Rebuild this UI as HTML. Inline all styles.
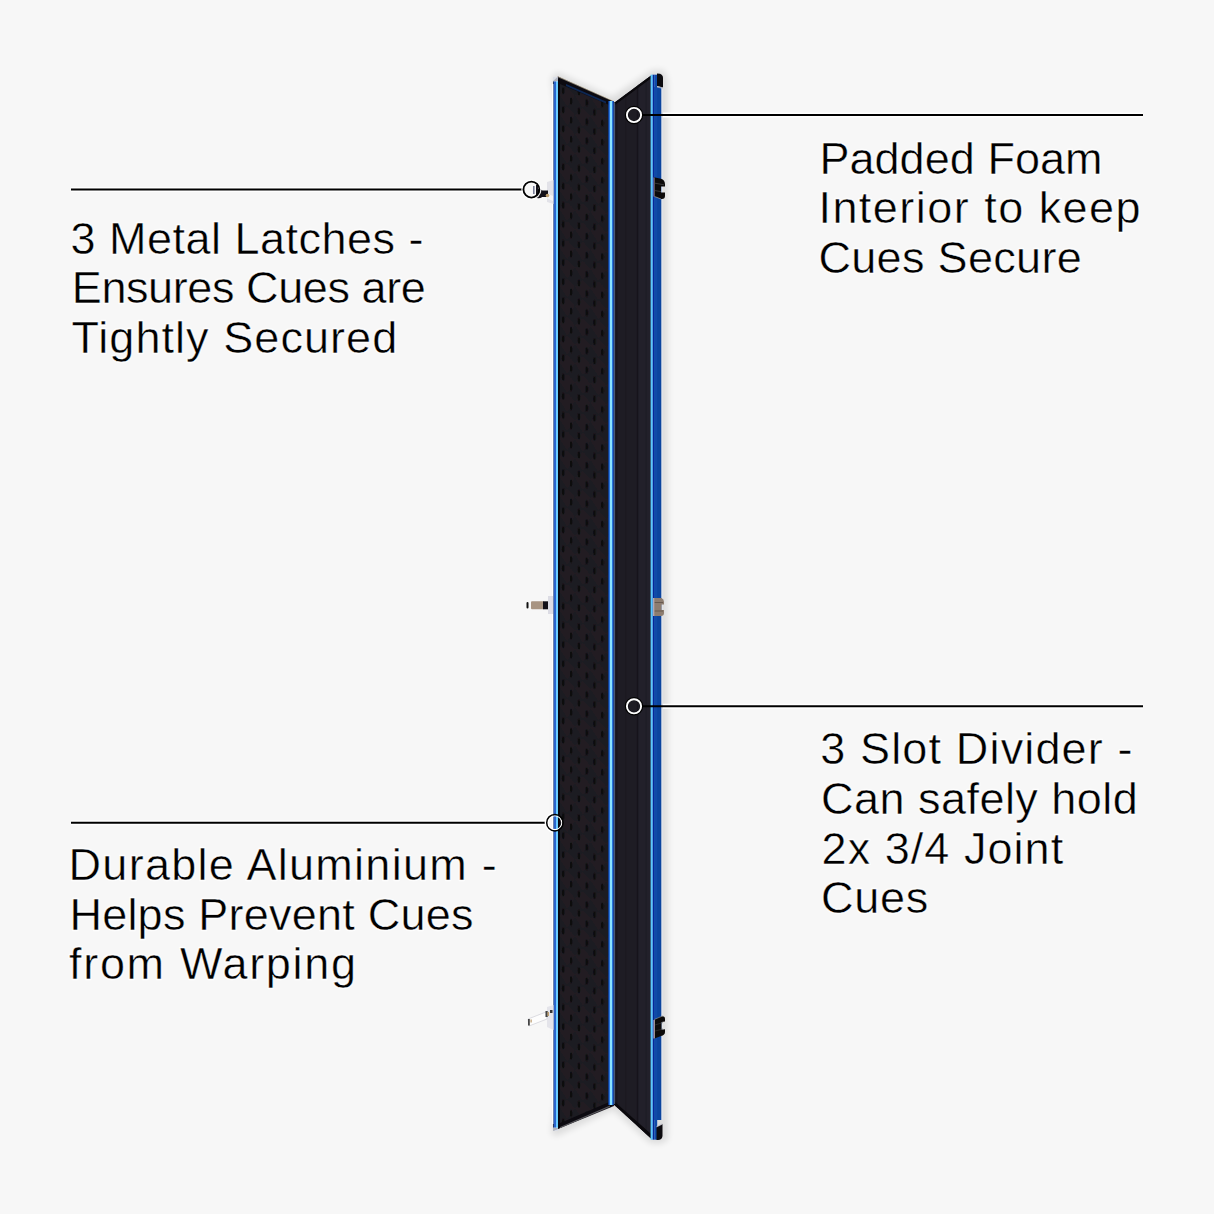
<!DOCTYPE html>
<html><head><meta charset="utf-8">
<style>
html,body{margin:0;padding:0;background:#f7f7f7;}
body{width:1214px;height:1214px;overflow:hidden;position:relative;}
svg{position:absolute;left:0;top:0;}
text{font-family:"Liberation Sans",sans-serif;font-size:45px;fill:#000;stroke:#fff;stroke-width:0.45px;}
.halo text{fill:#fff;stroke:#fff;stroke-width:2.4px;stroke-linejoin:round;opacity:0.85;}
</style></head>
<body>
<svg width="1214" height="1214" viewBox="0 0 1214 1214">
<defs>
  <pattern id="egg" x="559.3" y="442.6" width="15.6" height="19.1" patternUnits="userSpaceOnUse" patternTransform="skewY(5)">
    <rect width="15.6" height="19.1" fill="#1d1a20"/>
    <path d="M0,4 Q4,9.55 7.8,15.28 Q11.8,9.55 15.6,4 Q11.8,0 7.8,-4 Q4,0 0,4Z" fill="#28242b" opacity="0.35"/>
    <path d="M0,23.10 Q4,28.65 7.8,34.38 Q11.8,28.65 15.6,23.10 Q11.8,19.1 7.8,15.28 Q4,19.1 0,23.10Z" fill="#28242b" opacity="0.35"/>
    <ellipse cx="4" cy="0" rx="1.15" ry="3.4" fill="#060508" opacity="0.9"/>
    <ellipse cx="4" cy="19.1" rx="1.15" ry="3.4" fill="#060508" opacity="0.9"/>
    <ellipse cx="11.8" cy="9.55" rx="1.15" ry="3.4" fill="#060508" opacity="0.9"/>
  </pattern>
  <filter id="fsoft" x="-5%" y="-1%" width="110%" height="102%"><feGaussianBlur stdDeviation="0.75"/></filter>
  <filter id="blur1" x="-50%" y="-10%" width="200%" height="120%"><feGaussianBlur stdDeviation="3"/></filter>
  <filter id="soft" x="-50%" y="-50%" width="200%" height="200%"><feGaussianBlur stdDeviation="0.6"/></filter>
  <clipPath id="rclip"><polygon points="614,103 652.2,74.7 652.2,1139.6 613.6,1104.2"/></clipPath>
  <clipPath id="lclip"><rect x="0" y="0" width="553" height="1214"/></clipPath>
</defs>

<!-- shadow -->
<polygon points="551,78 557,72 612,97 652,70 664,70 668,80 668,1140 660,1144 650,1143 613,1110 557,1136 551,1134 555,1100 555,110" fill="#000" opacity="0.10" filter="url(#blur1)"/>

<!-- left panel -->
<polygon points="553,81 558,76.6 614,101.4 614,1106 553,1131" fill="url(#egg)" filter="url(#fsoft)"/>
<!-- left panel top bevel -->
<polygon points="558,76.6 614,101.4 614,107 560,84" fill="#0c0a10"/>
<polygon points="566,84 606,101.5 606,103.5 566,86" fill="#0f3a80" opacity="0.6"/>
<polygon points="558,76 614,100.8 614,102 558,77.3" fill="#e8dcc0" opacity="0.55"/>
<!-- left panel bottom bevel -->
<polygon points="553,1131 614,1105 614,1100 558,1124" fill="#0c0a10"/>
<polygon points="560,1127 610,1105.5 610,1106.7 560,1128.2" fill="#8a8a90" opacity="0.6"/>
<!-- left blue edge -->
<rect x="552" y="84" width="1.6" height="1040" fill="#ffffff" opacity="0.9"/>
<rect x="553.6" y="81" width="2.5" height="1047" fill="#2a64cc"/>
<rect x="556" y="81" width="2.1" height="1047" fill="#6ccdff"/>
<rect x="558" y="79" width="1.8" height="1049" fill="#03030c"/>
<rect x="553" y="77" width="5" height="4.5" fill="#d8dde8" opacity="0.8"/>
<rect x="553" y="1127.5" width="5" height="3.5" fill="#d8dde8" opacity="0.8"/>

<!-- right panel -->
<polygon points="614,103 652.2,74.7 652.2,1139.6 613.6,1104.2" fill="#1e1c24"/>
<g clip-path="url(#rclip)">
<rect x="614" y="70" width="3.5" height="1080" fill="#17151c" opacity="0.8"/>
<rect x="625" y="70" width="1.2" height="1080" fill="#19171e" opacity="0.6"/>
<rect x="638" y="70" width="12.5" height="1080" fill="#22202a"/>
<rect x="636.8" y="70" width="1.5" height="1080" fill="#141219" opacity="0.8"/>
<rect x="645.5" y="70" width="1.2" height="1080" fill="#1c1a22" opacity="0.6"/>
</g>
<!-- right panel top/bottom bevel -->
<polygon points="614,103 652.2,74.7 652.2,77.5 615,105" fill="#0a080c"/>
<polygon points="613.6,1104.2 652.2,1139.6 652.2,1135 615,1102" fill="#0a080c"/>
<!-- right blue -->
<rect x="650.6" y="74.7" width="2.2" height="1065" fill="#58c6ff"/>
<rect x="652.8" y="74.7" width="1.4" height="1065" fill="#06249a"/>
<rect x="654.2" y="87" width="7.3" height="1033" fill="#0b449e"/>
<rect x="654.2" y="74.7" width="3" height="1065" fill="#0f4aa8"/>
<rect x="661.4" y="88" width="1.2" height="1032" fill="#e6ebf3" opacity="0.7"/>
<!-- right corner caps -->
<path d="M657,73.6 L660,73.8 Q663,75 663,78 L663,87.5 L657,86 Z" fill="#0d0b0f"/>
<path d="M657,86 L663,87.5 L663,89 L657,87.5 Z" fill="#c8c8d0" opacity="0.7"/>
<path d="M656.5,1127 L662.5,1124 L662.5,1136 Q662,1140 658,1140 L656.5,1140 Z" fill="#0d0b0f"/>
<path d="M656.5,1126 L662.5,1123 L662.5,1124.5 L656.5,1127.5 Z" fill="#c8c8d0" opacity="0.7"/>

<!-- middle blue line -->
<rect x="608.3" y="101" width="5.5" height="1004" fill="#0a3a9a"/>
<rect x="608.8" y="101" width="4.5" height="1004" fill="#1e68d8"/>
<rect x="609.9" y="101" width="2.2" height="1004" fill="#8ae4ff"/>
<rect x="613.8" y="103" width="1.3" height="1001" fill="#4a5a78"/>

<!-- right clips -->
<g>
  <path d="M654,177.3 L661,178.8 Q665,180 665,184.5 L665,186.5 L661,186.5 L661,192.5 L665,192.5 L665,196 Q665,199.5 661,199 L654,196.5 Z" fill="#0b0909"/>
  <path d="M655,183.2 L664,184.8" stroke="#555" stroke-width="0.6"/>
  <path d="M655,190.6 L661,191.6" stroke="#555" stroke-width="0.6"/>
  <path d="M654.5,196.5 L661,199" stroke="#aaa" stroke-width="0.7"/>
  <rect x="653.6" y="177.5" width="0.9" height="19" fill="#d8c0c0" opacity="0.8"/>
  <path d="M653.5,598 L661.5,598 Q664,599 664,602 L664,604.5 L661.5,604.5 L661.5,610 L664,610 L664,613 Q664,616 661,616 L653.5,616 Z" fill="#8d7d70"/>
  <path d="M654.5,602.5 L663,602.5 M654.5,611 L663,611" stroke="#5d5048" stroke-width="0.8"/>
  <rect x="653.2" y="598" width="1" height="18" fill="#e8d8d8" opacity="0.8"/>
  <path d="M654,1019.8 L661,1016.6 Q665,1015.5 665,1019 L665,1021.4 L661.5,1022 L661.5,1029.7 L665,1029.2 L665,1032 Q665,1035 661,1036 L654,1038.7 Z" fill="#0b0909"/>
  <path d="M655,1025 L663,1022.5 M655,1031 L663,1029" stroke="#444" stroke-width="0.5"/>
  <path d="M654,1019.6 L663,1015.8" stroke="#999" stroke-width="0.6"/>
  <rect x="653.5" y="1020" width="1.3" height="18.5" fill="#e0d0d0" opacity="0.85"/>
</g>
<!-- left latches -->
<g>
  <rect x="548" y="596" width="5" height="18" fill="#dcdce4"/>
  <rect x="531" y="601.3" width="13" height="8" rx="1" fill="#a89482"/>
  <rect x="543" y="601.3" width="5" height="8" fill="#121018"/>
  <rect x="526.5" y="602" width="2" height="6.5" rx="1" fill="#111"/>
  <!-- top latch -->
  <polygon points="547,182 553.5,180 553.5,204 547,202" fill="#e2e2e8"/>
  <polygon points="544,192 553,196 553,201 544,197" fill="#f4f4f6"/>
  <rect x="533" y="186" width="1.6" height="8" fill="#5a6080" opacity="0.8"/>
  <path d="M536,185 L538,185 L538,189 Q542,189 543,192 L543,196 Q541,199 537,198 L536,198 Z" fill="#14121a"/>
  <rect x="539" y="190.5" width="9" height="6.5" fill="#121018"/>
  <circle cx="547.5" cy="195.5" r="1.8" fill="#c0a070"/>
  <!-- bottom latch -->
  <polygon points="547,1007 553.5,1005 553.5,1030 547,1027" fill="#e4e4ea"/>
  <polygon points="528,1019 546,1012 547,1019 529,1026" fill="#fdfdfd" stroke="#c8c8d0" stroke-width="0.6"/>
  <g filter="url(#soft)">
    <rect x="528" y="1019" width="1.8" height="6.5" fill="#444"/>
    <rect x="530.5" y="1019.5" width="1.2" height="3" fill="#b8986a"/>
    <rect x="545.5" y="1011" width="2.2" height="6" fill="#444"/>
    <rect x="547.5" y="1012" width="1.5" height="4" fill="#c0a070"/>
    <rect x="550" y="1010" width="2.5" height="3" fill="#333"/>
  </g>
</g>

<!-- leader lines -->
<g>
  <line x1="71" y1="189.6" x2="523" y2="189.6" stroke="#fff" stroke-width="5"/>
  <line x1="71" y1="189.6" x2="523" y2="189.6" stroke="#000" stroke-width="2"/>
  <line x1="663" y1="115" x2="1143" y2="115" stroke="#fff" stroke-width="5"/>
  <line x1="643" y1="115" x2="1143" y2="115" stroke="#000" stroke-width="2"/>
  <line x1="71" y1="822.7" x2="546" y2="822.7" stroke="#fff" stroke-width="5"/>
  <line x1="71" y1="822.7" x2="546" y2="822.7" stroke="#000" stroke-width="2"/>
  <line x1="663" y1="706.3" x2="1143" y2="706.3" stroke="#fff" stroke-width="5"/>
  <line x1="642.5" y1="706.3" x2="1143" y2="706.3" stroke="#000" stroke-width="2"/>
</g>
<!-- markers -->
<g fill="none">
  <circle cx="531.4" cy="189.6" r="9.3" stroke="#fff" stroke-width="1.6" opacity="0.9"/>
  <circle cx="531.4" cy="189.6" r="7.95" stroke="#000" stroke-width="1.8"/>
  <circle cx="634" cy="115" r="8.55" stroke="#000" stroke-width="1.3"/>
  <circle cx="634" cy="115" r="5.95" stroke="#000" stroke-width="0.6" opacity="0.6"/>
  <circle cx="634" cy="115" r="7.1" stroke="#fff" stroke-width="1.9"/>
  <circle cx="554.9" cy="822.7" r="9.6" stroke="#fff" stroke-width="1.4" clip-path="url(#lclip)"/>
  <circle cx="554.9" cy="822.7" r="6.9" stroke="#fff" stroke-width="1.1"/>
  <circle cx="554.9" cy="822.7" r="8.2" stroke="#000" stroke-width="1.5"/>
  <circle cx="634" cy="706.3" r="8.55" stroke="#000" stroke-width="1.3"/>
  <circle cx="634" cy="706.3" r="5.95" stroke="#000" stroke-width="0.6" opacity="0.6"/>
  <circle cx="634" cy="706.3" r="7.1" stroke="#fff" stroke-width="1.9"/>
</g>

<!-- text -->
<g class="halo">
  <text x="70.6" y="253.8" textLength="353.0">3 Metal Latches -</text>
  <text x="71.8" y="303.3" textLength="354.0">Ensures Cues are</text>
  <text x="71.4" y="352.8" textLength="325.8">Tightly Secured</text>
  <text x="819.4" y="173.5" textLength="283.2">Padded Foam</text>
  <text x="818.4" y="223.0" textLength="322.2">Interior to keep</text>
  <text x="818.4" y="272.5" textLength="263.4">Cues Secure</text>
  <text x="68.6" y="879.8" textLength="428.2">Durable Aluminium -</text>
  <text x="69.4" y="929.6" textLength="404.2">Helps Prevent Cues</text>
  <text x="69.0" y="979.2" textLength="287.0">from Warping</text>
  <text x="820.2" y="764.2" textLength="312.4">3 Slot Divider -</text>
  <text x="821.0" y="814.3" textLength="316.8">Can safely hold</text>
  <text x="821.6" y="864.0" textLength="241.6">2x 3/4 Joint</text>
  <text x="821.0" y="913.4" textLength="107.2">Cues</text>
</g>
<g>
  <text x="70.6" y="253.8" textLength="353.0">3 Metal Latches -</text>
  <text x="71.8" y="303.3" textLength="354.0">Ensures Cues are</text>
  <text x="71.4" y="352.8" textLength="325.8">Tightly Secured</text>
  <text x="819.4" y="173.5" textLength="283.2">Padded Foam</text>
  <text x="818.4" y="223.0" textLength="322.2">Interior to keep</text>
  <text x="818.4" y="272.5" textLength="263.4">Cues Secure</text>
  <text x="68.6" y="879.8" textLength="428.2">Durable Aluminium -</text>
  <text x="69.4" y="929.6" textLength="404.2">Helps Prevent Cues</text>
  <text x="69.0" y="979.2" textLength="287.0">from Warping</text>
  <text x="820.2" y="764.2" textLength="312.4">3 Slot Divider -</text>
  <text x="821.0" y="814.3" textLength="316.8">Can safely hold</text>
  <text x="821.6" y="864.0" textLength="241.6">2x 3/4 Joint</text>
  <text x="821.0" y="913.4" textLength="107.2">Cues</text>
</g>
</svg>
</body></html>
